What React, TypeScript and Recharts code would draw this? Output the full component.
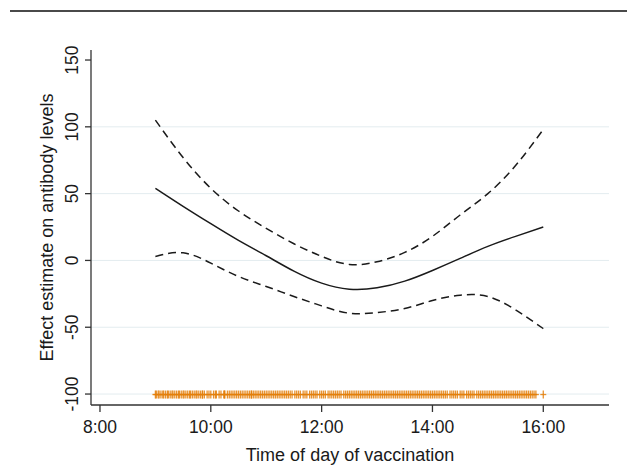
import React from 'react';
import { ComposedChart, Line, Scatter, XAxis, YAxis, CartesianGrid, Label } from 'recharts';

// spline fit, every half hour
const hours = [9, 9.5, 10, 10.5, 11, 11.5, 12, 12.5, 13, 13.5, 14, 14.5, 15, 15.5, 16];
const fit = [54, 40.5, 27.5, 15, 3.5, -8, -17, -21.5, -20.5, -15.5, -7.5, 1.5, 10.5, 18, 25];
const upper = [105, 77, 54, 37, 24, 12.5, 3, -3, -1, 6, 18, 34, 50, 71, 98];
const lower = [3, 5.7, -2, -12, -19.5, -27, -34, -39.5, -39, -36, -30, -26, -27, -37, -51];

// rug of vaccination times
const vaccinationTimes = [
    '9:00', '9:01', '9:03', '9:04', '9:06', '9:08', '9:09', '9:11', '9:13', '9:14', '9:16', '9:18',
    '9:19', '9:21', '9:23', '9:25', '9:26', '9:28', '9:30', '9:31', '9:33', '9:35', '9:37', '9:38',
    '9:40', '9:42', '9:44', '9:45', '9:47', '9:49', '9:51', '9:51', '9:53', '9:56', '9:58', '10:00',
    '10:03', '10:05', '10:06', '10:09', '10:11', '10:14', '10:15', '10:15', '10:18', '10:20', '10:22',
    '10:24', '10:26', '10:28', '10:30', '10:32', '10:34', '10:36', '10:38', '10:40', '10:42', '10:44',
    '10:44', '10:46', '10:48', '10:50', '10:52', '10:54', '10:56', '10:58', '11:00', '11:02', '11:04',
    '11:06', '11:08', '11:10', '11:12', '11:14', '11:16', '11:18', '11:20', '11:22', '11:24', '11:26',
    '11:28', '11:31', '11:33', '11:35', '11:37', '11:40', '11:42', '11:44', '11:47', '11:49', '11:51',
    '11:53', '11:55', '11:58', '12:00', '12:02', '12:04', '12:07', '12:09', '12:11', '12:13', '12:15',
    '12:17', '12:19', '12:21', '12:24', '12:26', '12:28', '12:30', '12:32', '12:34', '12:36', '12:38',
    '12:40', '12:42', '12:44', '12:46', '12:48', '12:50', '12:52', '12:54', '12:56', '12:58', '13:00',
    '13:02', '13:04', '13:06', '13:08', '13:10', '13:12', '13:14', '13:16', '13:18', '13:20', '13:22',
    '13:24', '13:26', '13:28', '13:30', '13:32', '13:34', '13:36', '13:38', '13:40', '13:42', '13:44',
    '13:46', '13:48', '13:50', '13:52', '13:54', '13:56', '13:58', '14:00', '14:02', '14:04', '14:06',
    '14:08', '14:10', '14:12', '14:14', '14:16', '14:19', '14:21', '14:23', '14:25', '14:27', '14:30',
    '14:32', '14:34', '14:37', '14:39', '14:41', '14:43', '14:45', '14:48', '14:50', '14:52', '14:54',
    '14:56', '14:58', '15:00', '15:02', '15:04', '15:06', '15:08', '15:10', '15:12', '15:14', '15:16',
    '15:18', '15:20', '15:22', '15:24', '15:26', '15:28', '15:30', '15:32', '15:34', '15:36', '15:38',
    '15:40', '15:42', '15:44', '15:46', '15:48', '15:50', '15:52', '16:00',
];
const rugLevel = -100;

const xTicks = [8, 10, 12, 14, 16];
const yTicks = [-100, -50, 0, 50, 100, 150];
const gridValues = [-100, -50, 0, 50, 100];

const FONT = '"Liberation Sans", Arial, sans-serif';
const INK = '#1a1a1a';

const toHours = (s: string) => {
    const [h, m] = s.split(':').map(Number);
    return h + m / 60;
};

const curveData = hours.map((h, i) => ({ hour: h, fit: fit[i], upper: upper[i], lower: lower[i] }));
const rugData = vaccinationTimes.map(t => ({ hour: toHours(t), y: rugLevel }));

const PlusMarker = (props: any) => {
    const { cx, cy } = props;
    return (
        <g stroke="#e47f0a" strokeWidth={1.3} strokeOpacity={0.85}>
            <line x1={cx} x2={cx} y1={cy - 3.5} y2={cy + 4.5} />
            <line x1={cx - 3} x2={cx + 3} y1={cy + 0.5} y2={cy + 0.5} />
        </g>
    );
};

const XTick = (props: any) => {
    const { x, payload } = props;
    return (
        <text x={x} y={433} textAnchor="middle" fontSize={17.5} fontFamily={FONT} fill={INK}>
            {`${payload.value}:00`}
        </text>
    );
};

const YTick = (props: any) => {
    const { y, payload } = props;
    return (
        <text x={78} y={y} transform={`rotate(-90, 78, ${y})`} textAnchor="middle" fontSize={17.5} fontFamily={FONT} fill={INK}>
            {payload.value}
        </text>
    );
};

const App: React.FC = () => {
    return (
        <div style={{ position: 'fixed', top: 0, left: 0, width: 627, height: 472, background: '#fff' }}>
            <div style={{ position: 'absolute', top: 10, left: 10, width: 617, height: 2, background: '#4a4a4a' }} />
            <ComposedChart
                width={627}
                height={472}
                data={curveData}
                margin={{ top: 50, right: 18, bottom: 0, left: 0 }}
            >
                <CartesianGrid vertical={false} horizontalValues={gridValues} stroke="#e3ecef" strokeWidth={1} />
                <XAxis
                    dataKey="hour"
                    type="number"
                    domain={[7.838, 17.186]}
                    ticks={xTicks}
                    height={67}
                    tickSize={7}
                    tick={<XTick />}
                    axisLine={{ stroke: '#333', strokeWidth: 1.3 }}
                    tickLine={{ stroke: '#333', strokeWidth: 1.3 }}
                    interval={0}
                >
                    <Label
                        content={() => (
                            <text x={350} y={461} textAnchor="middle" fontSize={18} fontFamily={FONT} fill={INK}>
                                Time of day of vaccination
                            </text>
                        )}
                    />
                </XAxis>
                <YAxis
                    type="number"
                    domain={[-108.2, 157.5]}
                    ticks={yTicks}
                    width={91}
                    tickSize={6}
                    tick={<YTick />}
                    axisLine={{ stroke: '#333', strokeWidth: 1.3 }}
                    tickLine={{ stroke: '#333', strokeWidth: 1.3 }}
                    interval={0}
                >
                    <Label
                        content={() => (
                            <text x={53} y={227.5} transform="rotate(-90, 53, 227.5)" textAnchor="middle" fontSize={18} fontFamily={FONT} fill={INK}>
                                Effect estimate on antibody levels
                            </text>
                        )}
                    />
                </YAxis>
                <Scatter data={rugData} dataKey="y" shape={<PlusMarker />} isAnimationActive={false} />
                <Line type="natural" dataKey="upper" stroke={INK} strokeWidth={1.5} strokeDasharray="8 5" dot={false} isAnimationActive={false} />
                <Line type="natural" dataKey="lower" stroke={INK} strokeWidth={1.5} strokeDasharray="8 5" dot={false} isAnimationActive={false} />
                <Line type="natural" dataKey="fit" stroke={INK} strokeWidth={1.5} dot={false} isAnimationActive={false} />
            </ComposedChart>
        </div>
    );
};

export default App;
